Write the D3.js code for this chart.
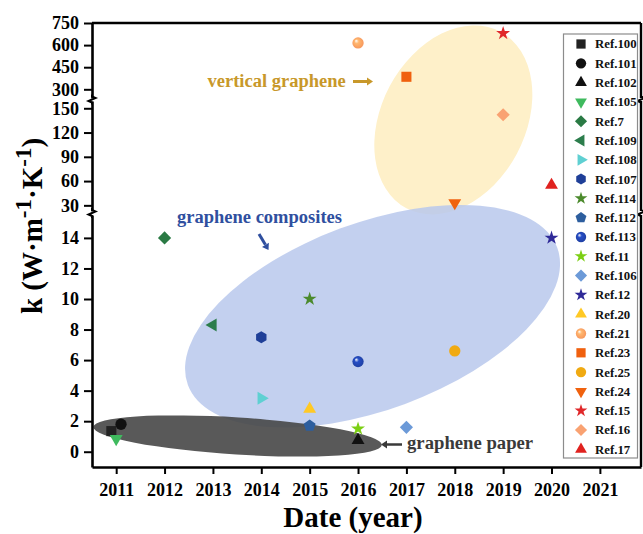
<!DOCTYPE html>
<html>
<head>
<meta charset="utf-8">
<script src="https://cdn.jsdelivr.net/npm/d3@7"></script>
<style>
  body { margin: 0; background: #fff; }
  svg text { font-family: "Liberation Serif", "Times New Roman", serif; font-weight: bold; }
</style>
</head>
<body>
<svg id="chart" width="643" height="534"></svg>
<script>
// data
const refs = ["Ref.100", "Ref.101", "Ref.102", "Ref.105", "Ref.7", "Ref.109", "Ref.108", "Ref.107",
  "Ref.114", "Ref.112", "Ref.113", "Ref.11", "Ref.106", "Ref.12", "Ref.20", "Ref.21", "Ref.23",
  "Ref.25", "Ref.24", "Ref.15", "Ref.16", "Ref.17"];
const years = [2010.9, 2011.1, 2016, 2011, 2012, 2013, 2014, 2014, 2015, 2015, 2016, 2016, 2017,
  2020, 2015, 2016, 2017, 2018, 2018, 2019, 2019, 2020];
const kValues = [1.35, 1.8, 0.75, 0.85, 14, 8.3, 3.5, 7.5, 10, 1.7, 5.9, 1.5, 1.6, 14, 2.8, 615,
  385, 6.6, 33, 680, 142, 55];
const shapes = ["square", "circle", "triangle", "triangleDown", "diamond", "triangleLeft",
  "triangleRight", "hexagon", "star", "pentagon", "sphere", "star", "diamond", "star", "triangle",
  "sphere", "square", "circle", "triangleDown", "star", "diamond", "triangle"];
const colors = ["#222222", "#111111", "#111111", "#3fba5e", "#2a7a44", "#2c7d4c", "#5fd0d2",
  "#1f3f98", "#4b8a2c", "#2d5e9e", "#1f3fa0", "#7ccf14", "#6c9ad8", "#2f2a98", "#ffc925",
  "#f6945a", "#f0600e", "#f0aa12", "#f0620e", "#e0282a", "#f9a272", "#e0221f"];

const xTicks = d3.range(2011, 2022);
const yTicksLow = [0, 2, 4, 6, 8, 10, 12, 14];
const yTicksMid = [30, 60, 90, 120, 150];
const yTicksHigh = [300, 450, 600, 750];

const svg = d3.select("#chart");

// scales: x plus three stacked y segments (broken axis)
const x = d3.scaleLinear().domain([2010.5, 2021.85]).range([92, 641]);
const yLow = d3.scaleLinear().domain([-1, 15.5]).range([467, 215]);
const yMid = d3.scaleLinear().domain([23, 159]).range([211, 101]);
const yHigh = d3.scaleLinear().domain([241, 750]).range([98, 23]);
const yPos = v => v <= 15.5 ? yLow(v) : (v <= 159 ? yMid(v) : yHigh(v));

// gradients for the shaded spheres
const defs = svg.append("defs");
shapes.forEach((s, i) => {
  if (s !== "sphere") return;
  const g = defs.append("radialGradient").attr("id", "sph" + i)
    .attr("cx", "50%").attr("cy", "50%").attr("r", "55%").attr("fx", "32%").attr("fy", "30%");
  g.append("stop").attr("offset", "0%").attr("stop-color", "#ffffff");
  g.append("stop").attr("offset", "35%").attr("stop-color", d3.color(colors[i]).brighter(0.6));
  g.append("stop").attr("offset", "100%").attr("stop-color", colors[i]);
});

// background groupings
const clouds = svg.append("g");
function cloud(year, k, rx, ry, angle, fill, opacity) {
  const cx = x(year), cy = yPos(k);
  clouds.append("ellipse")
    .attr("cx", cx).attr("cy", cy).attr("rx", rx).attr("ry", ry)
    .attr("transform", `rotate(${angle},${cx},${cy})`)
    .attr("fill", fill).attr("opacity", opacity);
}
cloud(2017.97, 135.6, 72, 100, 28, "#fef0c9", 1);
cloud(2016.3, 8.87, 197, 93.5, -20.4, "#b9c8ec", 0.85);
cloud(2013.51, 1.03, 144.5, 18.5, 3.6, "#474747", 0.9);

// axes
const axisG = svg.append("g");
const styleAxis = g => {
  g.select(".domain").attr("stroke", "#000").attr("stroke-width", 2.6);
  g.selectAll(".tick line").attr("stroke", "#000").attr("stroke-width", 2);
  g.selectAll(".tick text").attr("fill", "#000").style("font-size", "18px")
    .style("font-family", "'Liberation Serif', serif").style("font-weight", "bold");
};
[[yLow, yTicksLow], [yMid, yTicksMid], [yHigh, yTicksHigh]].forEach(([s, t]) => {
  axisG.append("g").attr("transform", "translate(92,0)")
    .call(d3.axisLeft(s).tickValues(t).tickSize(8).tickPadding(5).tickSizeOuter(0))
    .call(styleAxis);
});
axisG.append("g").attr("transform", "translate(0,467)")
  .call(d3.axisBottom(x).tickValues(xTicks).tickFormat(d3.format("d")).tickSize(7).tickPadding(9).tickSizeOuter(0))
  .call(styleAxis);

// frame top + right side (broken like the left axis)
axisG.append("line").attr("x1", 92).attr("x2", 641).attr("y1", 23).attr("y2", 23)
  .attr("stroke", "#000").attr("stroke-width", 2.4);
[[23, 98], [101, 211], [215, 467]].forEach(([a, b]) => {
  axisG.append("line").attr("x1", 641).attr("x2", 641).attr("y1", a).attr("y2", b)
    .attr("stroke", "#000").attr("stroke-width", 2.4);
});
const breakMark = (bx, by) => axisG.append("path")
  .attr("d", `M${bx},${by - 5}L${bx},${by - 3}L${bx + 3.5},${by - 1.5}L${bx - 3.5},${by + 1.5}L${bx},${by + 3}L${bx},${by + 5}`)
  .attr("fill", "none").attr("stroke", "#000").attr("stroke-width", 2);
[99.5, 213].forEach(by => { breakMark(92, by); breakMark(641, by); });

// symbol shapes
function polygon(n, r, rot) {
  return d3.range(n).map(i => {
    const a = rot + i * 2 * Math.PI / n;
    return [r * Math.sin(a), -r * Math.cos(a)];
  });
}
function shapePath(shape, s) {
  const poly = pts => "M" + pts.map(p => p.join(",")).join("L") + "Z";
  switch (shape) {
    case "square": return poly([[-s * 0.42, -s * 0.42], [s * 0.42, -s * 0.42], [s * 0.42, s * 0.42], [-s * 0.42, s * 0.42]]);
    case "circle": case "sphere": return d3.symbol(d3.symbolCircle, Math.PI * (s * 0.47) ** 2)();
    case "triangle": return poly(polygon(3, s * 0.62, 0));
    case "triangleDown": return poly(polygon(3, s * 0.62, Math.PI));
    case "triangleLeft": return poly(polygon(3, s * 0.62, -Math.PI / 2));
    case "triangleRight": return poly(polygon(3, s * 0.62, Math.PI / 2));
    case "diamond": return poly(polygon(4, s * 0.55, 0));
    case "hexagon": return poly(polygon(6, s * 0.5, 0));
    case "pentagon": return poly(polygon(5, s * 0.52, 0));
    case "star": return d3.symbol(d3.symbolStar, s * s * 0.42)();
  }
}
const fillOf = i => shapes[i] === "sphere" ? `url(#sph${i})` : colors[i];

// data points
svg.append("g").selectAll("path")
  .data(refs.map((r, i) => i))
  .join("path")
  .attr("transform", i => `translate(${x(years[i])},${yPos(kValues[i])})`)
  .attr("d", i => shapePath(shapes[i], 12))
  .attr("fill", fillOf);

// annotations
const ann = svg.append("g");
function arrow(x1, y1, x2, y2, color, w) {
  const a = Math.atan2(y2 - y1, x2 - x1), hl = 6, hw = 4;
  const bx = x2 - hl * Math.cos(a), by = y2 - hl * Math.sin(a);
  ann.append("line").attr("x1", x1).attr("y1", y1).attr("x2", bx).attr("y2", by)
    .attr("stroke", color).attr("stroke-width", w);
  ann.append("path")
    .attr("d", `M${x2},${y2}L${bx + hw * Math.sin(a)},${by - hw * Math.cos(a)}L${bx - hw * Math.sin(a)},${by + hw * Math.cos(a)}Z`)
    .attr("fill", color);
}
ann.append("text").attr("x", 207.5).attr("y", 87).attr("fill", "#c8982a").style("font-size", "18.5px")
  .text("vertical graphene");
arrow(353, 81.5, 373, 81.5, "#c8982a", 3);
ann.append("text").attr("x", 177).attr("y", 222.5).attr("fill", "#2f4f9f").style("font-size", "18.5px")
  .text("graphene composites");
arrow(259, 234, 268.5, 250, "#2f4f9f", 3);
ann.append("text").attr("x", 407).attr("y", 448.5).attr("fill", "#3a3a3a").style("font-size", "18.7px")
  .text("graphene paper");
arrow(402, 444.5, 381, 444.5, "#3a3a3a", 2.5);

// axis titles
svg.append("text").attr("x", 353).attr("y", 527).attr("text-anchor", "middle")
  .style("font-size", "29px").attr("fill", "#000").text("Date (year)");
const yt = svg.append("text").attr("transform", "translate(42,226) rotate(-90)")
  .attr("text-anchor", "middle").style("font-size", "29px").attr("fill", "#000");
yt.append("tspan").text("k (W\u00b7m");
yt.append("tspan").attr("dy", -11).style("font-size", "23px").text("-1");
yt.append("tspan").attr("dy", 11).text("\u00b7K");
yt.append("tspan").attr("dy", -11).style("font-size", "23px").text("-1");
yt.append("tspan").attr("dy", 11).text(")");

// legend
const lg = svg.append("g");
lg.append("rect").attr("x", 563.5).attr("y", 34).attr("width", 74).attr("height", 424)
  .attr("fill", "#fff").attr("stroke", "#8c8c8c").attr("stroke-width", 1.2);
const rowY = d3.scalePoint().domain(refs).range([44, 449.3]);
const rows = lg.selectAll("g.row").data(refs.map((r, i) => i)).join("g")
  .attr("transform", i => `translate(0,${rowY(refs[i])})`);
rows.append("path").attr("transform", "translate(581,0)")
  .attr("d", i => shapePath(shapes[i], 11)).attr("fill", fillOf);
rows.append("text").attr("x", 595).attr("dy", "0.35em").style("font-size", "12.8px")
  .attr("fill", "#111").text(i => refs[i]);
</script>
</body>
</html>
